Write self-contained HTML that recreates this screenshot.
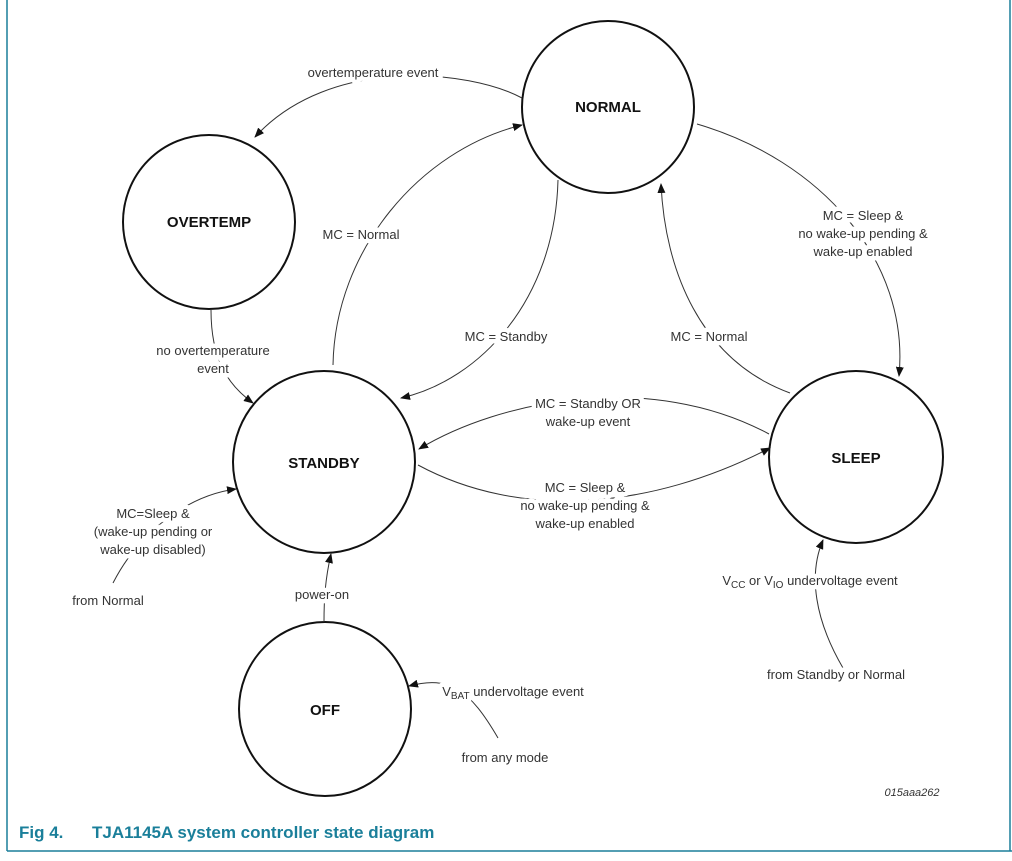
<!DOCTYPE html>
<html><head><meta charset="utf-8">
<style>
html,body{margin:0;padding:0;background:#fff;}
svg{display:block;}
text{font-family:"Liberation Sans",Arial,sans-serif;}
.l{font-size:13px;fill:#333;text-anchor:middle;paint-order:stroke;stroke:#fff;stroke-width:9px;stroke-linejoin:round;}
.bg{font-size:13px;fill:#fff;text-anchor:middle;stroke:#fff;stroke-width:9px;stroke-linejoin:round;}
.fg{font-size:13px;fill:#333;text-anchor:middle;}
.n{font-size:15px;font-weight:bold;fill:#111;text-anchor:middle;}
.c{fill:none;stroke:#111;stroke-width:2;}
.p{fill:none;stroke:#333;stroke-width:1;marker-end:url(#ah);}
</style></head><body>
<svg width="1012" height="861" viewBox="0 0 1012 861" xmlns="http://www.w3.org/2000/svg">
<defs>
<marker id="ah" markerWidth="10" markerHeight="8" refX="9" refY="4" orient="auto" markerUnits="userSpaceOnUse">
<path d="M0,0 L10,4 L0,8 z" fill="#111"/>
</marker>
</defs>
<line x1="7" y1="0" x2="7" y2="851" stroke="#1a7f9a" stroke-width="1.5"/>
<line x1="1010" y1="0" x2="1010" y2="851" stroke="#1a7f9a" stroke-width="1.5"/>
<line x1="7" y1="851" x2="1012" y2="851" stroke="#1a7f9a" stroke-width="1.5"/>

<ellipse class="c" cx="608" cy="107" rx="86" ry="86"/>
<ellipse class="c" cx="209" cy="222" rx="86" ry="87"/>
<ellipse class="c" cx="324" cy="462" rx="91" ry="91"/>
<ellipse class="c" cx="856" cy="457" rx="87" ry="86"/>
<ellipse class="c" cx="325" cy="709" rx="86" ry="87"/>

<path class="p" d="M522,98 C470,70 330,55 255,137"/>
<path class="p" d="M333,365 C335,250 420,150 522,125"/>
<path class="p" d="M558,180 C555,300 480,380 401,398"/>
<path class="p" d="M790,393 C700,360 665,270 661,184"/>
<path class="p" d="M697,124 C820,160 910,260 899,376"/>
<path class="p" d="M769,434 C650,370 500,400 419,449"/>
<path class="p" d="M418,465 C520,520 650,510 770,448"/>
<path class="p" d="M211,310 C211,360 228,385 253,403"/>
<path class="p" d="M113,583 C140,530 190,495 236,489"/>
<path class="p" d="M324,622 C324,600 325,580 331,554"/>
<path class="p" d="M498,738 C470,690 450,675 409,686"/>
<path class="p" d="M843,668 C815,620 808,575 823,540"/>

<text class="l" x="373" y="77">overtemperature event</text>
<text class="l" x="361" y="239">MC = Normal</text>
<text class="l" x="506" y="341">MC = Standby</text>
<text class="l" x="709" y="341">MC = Normal</text>
<text class="l" x="863" y="220">MC = Sleep &amp;</text>
<text class="l" x="863" y="238">no wake-up pending &amp;</text>
<text class="l" x="863" y="256">wake-up enabled</text>
<text class="l" x="588" y="408">MC = Standby OR</text>
<text class="l" x="588" y="426">wake-up event</text>
<text class="l" x="585" y="492">MC = Sleep &amp;</text>
<text class="l" x="585" y="510">no wake-up pending &amp;</text>
<text class="l" x="585" y="528">wake-up enabled</text>
<text class="l" x="213" y="355">no overtemperature</text>
<text class="l" x="213" y="373">event</text>
<text class="l" x="153" y="518">MC=Sleep &amp;</text>
<text class="l" x="153" y="536">(wake-up pending or</text>
<text class="l" x="153" y="554">wake-up disabled)</text>
<text class="l" x="108" y="605">from Normal</text>
<text class="l" x="322" y="599">power-on</text>

<text class="bg" x="513" y="696">V<tspan font-size="10" dy="3">BAT</tspan><tspan dy="-3"> undervoltage event</tspan></text>
<text class="fg" x="513" y="696">V<tspan font-size="10" dy="3">BAT</tspan><tspan dy="-3"> undervoltage event</tspan></text>
<text class="l" x="505" y="762">from any mode</text>
<text class="bg" x="810" y="585">V<tspan font-size="10" dy="3">CC</tspan><tspan dy="-3"> or V</tspan><tspan font-size="10" dy="3">IO</tspan><tspan dy="-3"> undervoltage event</tspan></text>
<text class="fg" x="810" y="585">V<tspan font-size="10" dy="3">CC</tspan><tspan dy="-3"> or V</tspan><tspan font-size="10" dy="3">IO</tspan><tspan dy="-3"> undervoltage event</tspan></text>
<text class="l" x="836" y="679">from Standby or Normal</text>
<text x="912" y="796" font-size="11" font-style="italic" fill="#333" text-anchor="middle">015aaa262</text>

<text class="n" x="608" y="112">NORMAL</text>
<text class="n" x="209" y="227">OVERTEMP</text>
<text class="n" x="324" y="468">STANDBY</text>
<text class="n" x="856" y="463">SLEEP</text>
<text class="n" x="325" y="715">OFF</text>

<text x="19" y="838" font-size="17" font-weight="bold" fill="#1a7f9a">Fig 4.</text>
<text x="92" y="838" font-size="17" font-weight="bold" fill="#1a7f9a">TJA1145A system controller state diagram</text>
</svg>
</body></html>
